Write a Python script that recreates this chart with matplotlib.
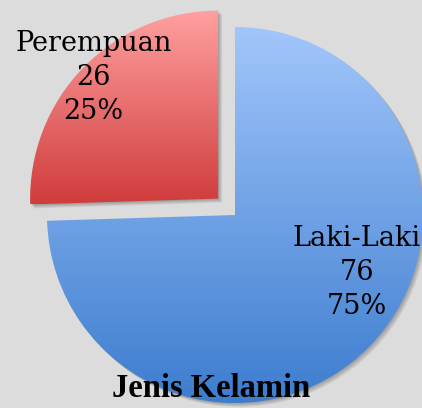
import matplotlib.pyplot as plt
import numpy as np
from matplotlib.colors import LinearSegmentedColormap
from matplotlib.patches import Wedge

labels = ['Laki-Laki', 'Perempuan']
jumlah = [76, 26]
persen = [75, 25]
judul = 'Jenis Kelamin'

# warna gradien (atas -> bawah)
GRADIEN = [('#a2c6fb', '#3c7cce'), ('#ffa0a0', '#d03c3c')]
BG = '#dcdcdc'

W, H = 422, 408
fig = plt.figure(figsize=(W / 100, H / 100), dpi=100)
fig.patch.set_facecolor(BG)
ax = fig.add_axes([0, 0, 1, 1])

cx, cy, r = 235, 193, 188
wedges, _ = ax.pie(jumlah, startangle=90, counterclock=False,
                   explode=[0, 0.125 * r], center=(cx, cy), radius=r)
ax.set_xlim(0, W)
ax.set_ylim(0, H)
ax.set_aspect('equal')
ax.axis('off')

for w, (c_top, c_bot) in zip(wedges, GRADIEN):
    w.set_facecolor('none')
    w.set_edgecolor('none')
    wx, wy = w.center
    verts = w.get_path().vertices
    y0, y1 = verts[:, 1].min(), verts[:, 1].max()
    # bayangan
    for k in range(1, 6):
        sh = Wedge((wx + k * 0.8, wy - k * 0.8), w.r, w.theta1, w.theta2,
                   facecolor='black', edgecolor='none', alpha=0.06, zorder=1)
        ax.add_patch(sh)
    cmap = LinearSegmentedColormap.from_list('g', [c_bot, c_top])
    grad = np.linspace(0, 1, 256).reshape(-1, 1)
    im = ax.imshow(grad, cmap=cmap, origin='lower', aspect='auto',
                   extent=(wx - w.r, wx + w.r, y0, y1), zorder=2)
    im.set_clip_path(w)

ax.set_xlim(0, W)
ax.set_ylim(0, H)

teks_pos = [(0.845, 0.333), (0.222, 0.81)]
for lab, n, p, (tx, ty) in zip(labels, jumlah, persen, teks_pos):
    ax.text(tx, ty, f'{lab}\n{n}\n{p}%', transform=ax.transAxes,
            ha='center', va='center', fontsize=19.5, family='DejaVu Serif',
            linespacing=1.33, zorder=5)

ax.text(0.5, 0.048, judul, transform=ax.transAxes, ha='center', va='center',
        fontsize=23.5, fontweight='bold', family='Liberation Serif', zorder=5)

fig.savefig('out.png', dpi=100, facecolor=BG)
